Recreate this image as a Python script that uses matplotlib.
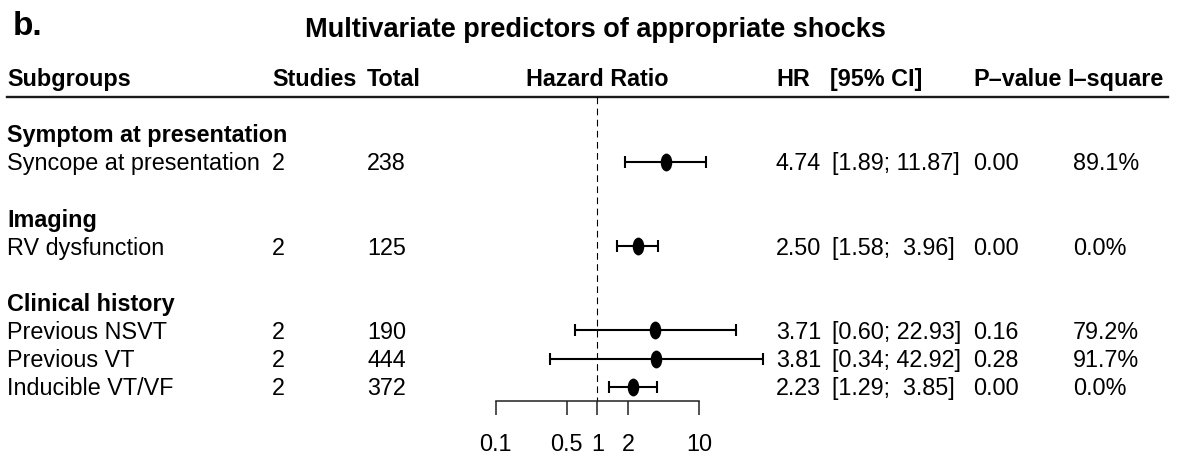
import matplotlib
matplotlib.use("Agg")
import matplotlib.pyplot as plt
from matplotlib.path import Path
from matplotlib.ticker import FixedLocator, FixedFormatter, NullLocator
from matplotlib import transforms

# ---------------- data ----------------
group_names = ["Symptom at presentation", "Imaging", "Clinical history"]
subgroups = ["Syncope at presentation", "RV dysfunction", "Previous NSVT",
             "Previous VT", "Inducible VT/VF"]
subgroup_group = [0, 1, 2, 2, 2]
studies = [2, 2, 2, 2, 2]
totals = [238, 125, 190, 444, 372]
hr = [4.74, 2.50, 3.71, 3.81, 2.23]
ci_low = [1.89, 1.58, 0.60, 0.34, 1.29]
ci_high = [11.87, 3.96, 22.93, 42.92, 3.85]
p_values = [0.00, 0.00, 0.16, 0.28, 0.00]
i_square = [89.1, 0.0, 79.2, 91.7, 0.0]
tick_values = [0.1, 0.5, 1, 2, 10]
tick_labels = ["0.1", "0.5", "1", "2", "10"]
headers = ["Subgroups", "Studies", "Total", "Hazard Ratio", "HR",
           "[95% CI]", "P\u2013value", "I\u2013square"]
title = "Multivariate predictors of appropriate shocks"
panel_label = "b."

# ---------------- layout ----------------
W, H, DPI = 1179, 454, 100
plt.rcParams['font.family'] = ['Liberation Sans', 'DejaVu Sans']
FS = 16.8

fig = plt.figure(figsize=(W / DPI, H / DPI), dpi=DPI)
ax = fig.add_axes([0, 0, 1, 1])
ax.set_xscale('log')

ROW0, ROWH = 134.0, 28.07      # pixel of first row centre, row height
X1, DEC = 597.3, 101.6         # pixel of HR=1, pixels per decade
ax.set_xlim(10 ** (-X1 / DEC), 10 ** ((W - X1) / DEC))
ax.set_ylim((H - ROW0) / ROWH, -ROW0 / ROWH)

# row positions derived from group structure
rows, label_rows = [], []
r, prev = 0, None
for i, g in enumerate(subgroup_group):
    if g != prev:
        if prev is not None:
            r += 1
        label_rows.append((r, group_names[g]))
        r += 1
        prev = g
    rows.append(r)
    r += 1

axis_y = rows[-1] + 0.5
header_y = -2.0
header_line_y = (97 - ROW0) / ROWH

xt = ax.get_yaxis_transform()
tt = transforms.offset_copy(xt, fig=fig, y=-8.3, units='dots')

col_px = dict(sub=7, studies=272, total=367, hr=776, ci=832, p=973, i2=1073)
hdr_px = [7, 272, 367, None, 776, 830, 973, 1067]

# headers
for txt, px in zip(headers, hdr_px):
    if px is None:
        ax.text(1, header_y, txt, ha='center', va='baseline', fontsize=FS,
                fontweight='bold',
                transform=transforms.offset_copy(ax.transData, fig=fig, y=-8.3, units='dots'))
    else:
        ax.text(px / W, header_y, txt, ha='left', va='baseline', fontsize=FS,
                fontweight='bold', transform=tt)

ax.axhline(header_line_y, xmin=7 / W, xmax=1168 / W, lw=1.7, color='#1a1a1a')

# group labels
for rr, name in label_rows:
    ax.text(col_px['sub'] / W, rr, name, ha='left', va='baseline', fontsize=FS,
            fontweight='bold', transform=tt)

# subgroup rows
for i, rr in enumerate(rows):
    ax.text(col_px['sub'] / W, rr, subgroups[i], ha='left', va='baseline', fontsize=FS, transform=tt)
    ax.text(col_px['studies'] / W, rr, f"{studies[i]}", ha='left', va='baseline', fontsize=FS, transform=tt)
    ax.text(col_px['total'] / W, rr, f"{totals[i]}", ha='left', va='baseline', fontsize=FS, transform=tt)
    ax.text(col_px['hr'] / W, rr, f"{hr[i]:.2f}", ha='left', va='baseline', fontsize=FS, transform=tt)
    ax.text(col_px['ci'] / W, rr, f"[{ci_low[i]:.2f}; {ci_high[i]:5.2f}]", ha='left', va='baseline',
            fontsize=FS, transform=tt)
    ax.text(col_px['p'] / W, rr, f"{p_values[i]:.2f}", ha='left', va='baseline', fontsize=FS, transform=tt)
    ax.text(col_px['i2'] / W, rr, f"{i_square[i]:.1f}%", ha='left', va='baseline', fontsize=FS, transform=tt)

# forest marks
xerr = [[h - lo for h, lo in zip(hr, ci_low)], [hi - h for h, hi in zip(hr, ci_high)]]
ax.errorbar(hr, rows, xerr=xerr, fmt='none', ecolor='black', elinewidth=1.5,
            capsize=4.5, capthick=1.5, zorder=3)
circ = Path.unit_circle()
ellipse = Path(circ.vertices * [0.62, 1.0], circ.codes)
ax.plot(hr, rows, linestyle='none', marker=ellipse, markersize=11.8,
        color='black', zorder=4)

# reference line
ax.plot([1, 1], [header_line_y, axis_y], color='black', lw=0.8,
        linestyle=(0, (6, 4)), zorder=2)

# axis
for s in ['top', 'left', 'right']:
    ax.spines[s].set_visible(False)
ax.spines['bottom'].set_position(('data', axis_y))
ax.spines['bottom'].set_bounds(tick_values[0], tick_values[-1])
ax.spines['bottom'].set_linewidth(1.1)
ax.spines['bottom'].set_color('#222222')
ax.xaxis.set_major_locator(FixedLocator(tick_values))
ax.xaxis.set_major_formatter(FixedFormatter(tick_labels))
ax.xaxis.set_minor_locator(NullLocator())
ax.tick_params(axis='x', direction='out', length=10, width=1.1, color='#222222',
               labelsize=FS, pad=13)
ax.set_yticks([])
ax.patch.set_visible(False)

# titles
fig.text(13 / W, 1 - 35 / H, panel_label, ha='left', va='baseline', fontsize=24, fontweight='bold')
fig.text(595 / W, 1 - 37 / H, title, ha='center', va='baseline', fontsize=19.5, fontweight='bold')

fig.savefig("out.png", dpi=DPI)
